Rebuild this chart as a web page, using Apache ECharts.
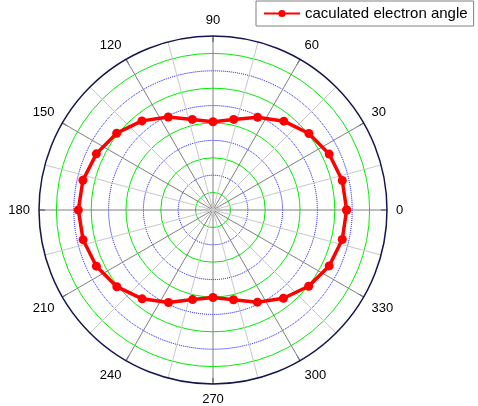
<!DOCTYPE html>
<html>
<head>
<meta charset="utf-8">
<script src="https://cdn.jsdelivr.net/npm/echarts@6/dist/echarts.min.js"></script>
<style>html,body{margin:0;padding:0;background:#fff}#c{width:478px;height:406px}</style>
</head>
<body>
<div id="c"></div>
<script>
const seriesName = 'caculated electron angle';
const angles = [0, 12.86, 25.71, 38.57, 51.43, 64.29, 77.14, 90, 102.86, 115.71, 128.57, 141.43, 154.29, 167.14,
  180, 192.86, 205.71, 218.57, 231.43, 244.29, 257.14, 270, 282.86, 295.71, 308.57, 321.43, 334.29, 347.14];
const radii = [7.68, 7.62, 7.41, 7.05, 6.53, 5.91, 5.34, 5.07, 5.34, 5.93, 6.55, 7.08, 7.44, 7.67,
  7.74, 7.66, 7.44, 7.07, 6.53, 5.90, 5.28, 5.03, 5.29, 5.88, 6.49, 7.03, 7.41, 7.62];
const angleTicks = [0, 30, 60, 90, 120, 150, 180, 210, 240, 270, 300, 330];

const data = radii.map((r, i) => [r, angles[i]]);
data.push([radii[0], 360]);

const chart = echarts.init(document.getElementById('c'));
chart.setOption({
  animation: false,
  backgroundColor: '#fff',
  legend: {
    left: 256, top: 1,
    padding: [5, 6, 5, 7],
    borderColor: '#808080', borderWidth: 1,
    itemWidth: 36, itemHeight: 9,
    textStyle: { fontSize: 15, color: '#000', fontFamily: 'Liberation Sans' },
    data: [seriesName]
  },
  polar: { center: [213, 210], radius: 174 },
  angleAxis: {
    type: 'value', min: 0, max: 360, interval: 30,
    startAngle: 0, clockwise: false,
    axisLine: { lineStyle: { color: '#15154f', width: 1.5 } },
    axisTick: { show: true, inside: true, length: 6, lineStyle: { color: '#15154f', width: 1 } },
    axisLabel: {
      margin: 9, color: '#000', fontSize: 13, fontFamily: 'Liberation Sans',
      formatter: v => (angleTicks.indexOf(v) >= 0 ? String(v) : '')
    },
    splitLine: { show: true, lineStyle: { color: '#808080', width: 1 } },
    minorTick: { show: false, splitNumber: 2 },
    minorSplitLine: { show: true, lineStyle: { color: '#c8c8c8', width: 1 } }
  },
  radiusAxis: {
    type: 'value', min: 0, max: 10, interval: 2,
    axisLine: { show: false }, axisTick: { show: false }, axisLabel: { show: false },
    splitLine: { show: true, lineStyle: { color: ['#0000ff', '#0000ff', '#0000ff', '#0000ff', '#0000ff', 'rgba(0,0,0,0)'], type: [1, 1], width: 1 } },
    minorTick: { show: false, splitNumber: 2 },
    minorSplitLine: { show: true, lineStyle: { color: '#00ee00', width: 1 } }
  },
  series: [{
    name: seriesName,
    type: 'line',
    coordinateSystem: 'polar',
    data: data,
    symbol: 'circle', symbolSize: 9,
    showAllSymbol: true,
    lineStyle: { color: '#ff0000', width: 3.5 },
    itemStyle: { color: '#ff0000' },
    z: 10
  }]
});
</script>
</body>
</html>
